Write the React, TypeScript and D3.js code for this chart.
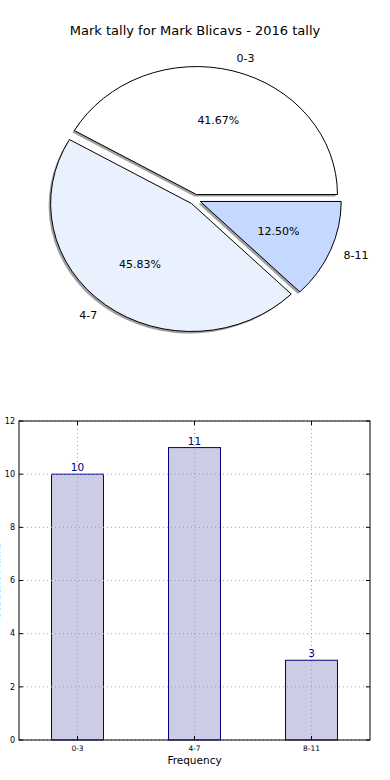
import React, { useEffect, useRef } from 'react';
import * as d3 from 'd3';

const categories = ['0-3', '4-7', '8-11'];
const counts = [10, 11, 3];
const sliceColors = ['#ffffff', '#eaf1fe', '#c5d8ff'];
const explode = [0.04, 0.04, 0.04];
const yTicks = [0, 2, 4, 6, 8, 10, 12];
const title = 'Mark tally for Mark Blicavs - 2016 tally';

const App: React.FC = () => {
  const ref = useRef<SVGSVGElement | null>(null);

  useEffect(() => {
    const svg = d3.select(ref.current);
    svg.selectAll('*').remove();
    const font = 'DejaVu Sans, sans-serif';

    // Title
    svg.append('text')
      .attr('x', 195).attr('y', 35)
      .attr('text-anchor', 'middle')
      .attr('font-family', font).attr('font-size', 13)
      .text(title);

    // Pie (elliptical, matplotlib style: start at 3 o'clock, counterclockwise)
    const cx = 195, cy = 199.5, rx = 141, ry = 128;
    const total = d3.sum(counts);
    let acc = 0;
    const slices = counts.map((v, i) => {
      const t0 = (acc / total) * 2 * Math.PI;
      acc += v;
      const t1 = (acc / total) * 2 * Math.PI;
      const mid = (t0 + t1) / 2;
      const ox = cx + explode[i] * rx * Math.cos(mid);
      const oy = cy - explode[i] * ry * Math.sin(mid);
      return { v, i, t0, t1, mid, ox, oy };
    });
    const arc = d3.arc<any>()
      .innerRadius(0).outerRadius(1)
      .startAngle(d => Math.PI / 2 - d.t1)
      .endAngle(d => Math.PI / 2 - d.t0);

    const pie = svg.append('g');
    // shadows
    slices.forEach(s => {
      pie.append('path')
        .attr('transform', `translate(${s.ox - 2},${s.oy + 2}) scale(${rx},${ry})`)
        .attr('d', arc(s))
        .attr('fill', '#808080')
        .attr('opacity', 0.75);
    });
    slices.forEach(s => {
      pie.append('path')
        .attr('transform', `translate(${s.ox},${s.oy}) scale(${rx},${ry})`)
        .attr('d', arc(s))
        .attr('fill', sliceColors[s.i])
        .attr('stroke', '#000')
        .attr('stroke-width', 1)
        .attr('vector-effect', 'non-scaling-stroke');
    });
    slices.forEach(s => {
      const lx = s.ox + 1.1 * rx * Math.cos(s.mid);
      const ly = s.oy - 1.1 * ry * Math.sin(s.mid);
      pie.append('text')
        .attr('x', lx).attr('y', ly)
        .attr('dy', '0.35em')
        .attr('text-anchor', Math.cos(s.mid) > 0 ? 'start' : 'end')
        .attr('font-family', font).attr('font-size', 11)
        .text(categories[s.i]);
      const px = s.ox + 0.6 * rx * Math.cos(s.mid);
      const py = s.oy - 0.6 * ry * Math.sin(s.mid);
      pie.append('text')
        .attr('x', px).attr('y', py)
        .attr('dy', '0.35em')
        .attr('text-anchor', 'middle')
        .attr('font-family', font).attr('font-size', 11)
        .text(((s.v / total) * 100).toFixed(2) + '%');
    });

    // Bar chart
    const left = 19, right = 370, top = 421, bottom = 740;
    const x = d3.scaleBand<string>()
      .domain(categories)
      .range([left, right])
      .paddingInner(0.556)
      .paddingOuter(0.278);
    const y = d3.scaleLinear().domain([0, 12]).range([bottom, top]);
    const g = svg.append('g');

    g.selectAll('rect.bar')
      .data(counts)
      .enter()
      .append('rect')
      .attr('class', 'bar')
      .attr('x', (d, i) => x(categories[i])!)
      .attr('y', d => y(d))
      .attr('width', x.bandwidth())
      .attr('height', d => bottom - y(d))
      .attr('fill', '#ccccE5')
      .attr('stroke', '#000080')
      .attr('stroke-width', 1);

    // grid
    yTicks.forEach(t => {
      g.append('line')
        .attr('x1', left).attr('x2', right)
        .attr('y1', y(t)).attr('y2', y(t))
        .attr('stroke', '#a0a0a0').attr('stroke-dasharray', '1,3');
    });
    categories.forEach(c => {
      const cxp = x(c)! + x.bandwidth() / 2;
      g.append('line')
        .attr('x1', cxp).attr('x2', cxp)
        .attr('y1', top).attr('y2', bottom)
        .attr('stroke', '#a0a0a0').attr('stroke-dasharray', '1,3');
    });

    // frame
    g.append('rect')
      .attr('x', left).attr('y', top)
      .attr('width', right - left).attr('height', bottom - top)
      .attr('fill', 'none').attr('stroke', '#000').attr('stroke-width', 1);

    // y ticks
    yTicks.forEach(t => {
      g.append('line').attr('x1', left).attr('x2', left + 4)
        .attr('y1', y(t)).attr('y2', y(t)).attr('stroke', '#000');
      g.append('line').attr('x1', right).attr('x2', right - 4)
        .attr('y1', y(t)).attr('y2', y(t)).attr('stroke', '#000');
      g.append('text')
        .attr('x', left - 4).attr('y', y(t)).attr('dy', '0.35em')
        .attr('text-anchor', 'end')
        .attr('font-family', font).attr('font-size', 8)
        .text(t);
    });

    // x ticks
    categories.forEach(c => {
      const cxp = x(c)! + x.bandwidth() / 2;
      g.append('line').attr('x1', cxp).attr('x2', cxp)
        .attr('y1', bottom).attr('y2', bottom - 4).attr('stroke', '#000');
      g.append('line').attr('x1', cxp).attr('x2', cxp)
        .attr('y1', top).attr('y2', top + 4).attr('stroke', '#000');
      g.append('text')
        .attr('x', cxp).attr('y', bottom + 11)
        .attr('text-anchor', 'middle')
        .attr('font-family', font).attr('font-size', 7.5)
        .text(c);
    });

    // value labels
    counts.forEach((v, i) => {
      g.append('text')
        .attr('x', x(categories[i])! + x.bandwidth() / 2)
        .attr('y', y(v) - 3)
        .attr('text-anchor', 'middle')
        .attr('font-family', font).attr('font-size', 10.5)
        .attr('fill', '#000080')
        .text(v);
    });

    // axis labels
    g.append('text')
      .attr('x', (left + right) / 2).attr('y', bottom + 24)
      .attr('text-anchor', 'middle')
      .attr('font-family', font).attr('font-size', 10.5)
      .text('Frequency');
    g.append('text')
      .attr('transform', `translate(0,${(top + bottom) / 2}) rotate(-90)`)
      .attr('text-anchor', 'middle')
      .attr('font-family', font).attr('font-size', 10.5)
      .text('Student Marks');
  }, []);

  return (
    <svg
      ref={ref}
      width={390}
      height={780}
      style={{ position: 'absolute', left: 0, top: 0, background: '#fff' }}
    />
  );
};

export default App;
